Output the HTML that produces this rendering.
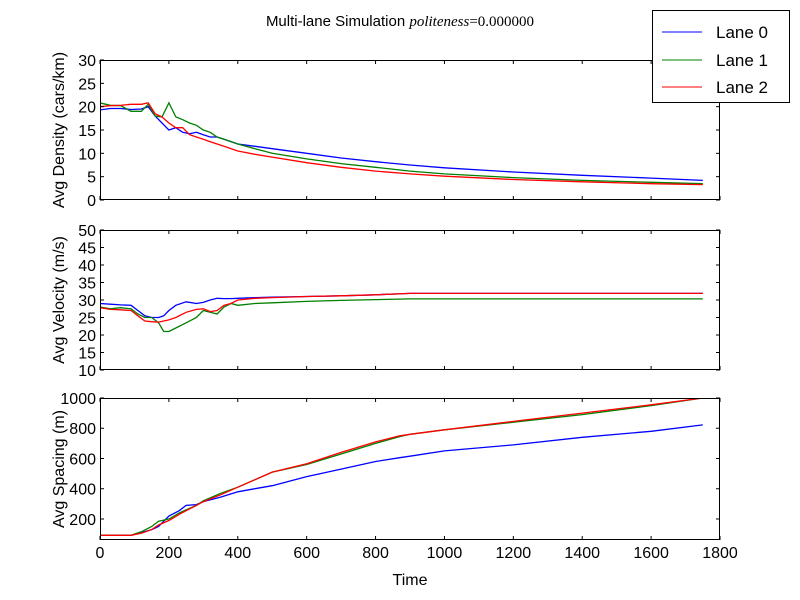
<!DOCTYPE html>
<html><head><meta charset="utf-8">
<style>
body{margin:0;background:#fff;}
svg{display:block;font-family:"Liberation Sans","DejaVu Sans",sans-serif;}
</style></head>
<body>
<svg id="chart" width="800" height="600" viewBox="0 0 800 600">
<rect width="800" height="600" fill="#fff"/>
<text x="400" y="26" font-size="15" text-anchor="middle">Multi-lane Simulation <tspan font-family="Liberation Serif,serif" font-style="italic">politeness</tspan><tspan font-family="Liberation Serif,serif">=0.000000</tspan></text>
<g id="plots"></g>
<g>
<rect x="652.5" y="10.5" width="137" height="92" fill="#fff" stroke="#000"/>
<g><line x1="662" y1="32" x2="702" y2="32" stroke="#0000ff"/><text x="716" y="38" font-size="17">Lane 0</text></g>
<g><line x1="662" y1="60" x2="702" y2="60" stroke="#008000"/><text x="716" y="66" font-size="17">Lane 1</text></g>
<g><line x1="662" y1="87" x2="702" y2="87" stroke="#ff0000"/><text x="716" y="93" font-size="17">Lane 2</text></g>
</g>
</svg>
<script>
const xTicks = [0,200,400,600,800,1000,1200,1400,1600,1800];
const colors = ["#0000ff","#008000","#ff0000"];
const laneNames = ["lane-0","lane-1","lane-2"];
// density
const densT = [0,30,60,90,120,140,160,180,200,220,240,260,280,300,320,340,360,400,450,500,600,700,800,900,1000,1200,1400,1600,1750];
const densLane0 = [19.3,19.6,19.6,19.4,19.5,20,18,16.5,15,15.5,14.5,14.2,14.5,14,13.5,13.5,13,12,11.5,11,10,9,8.2,7.5,6.9,6,5.3,4.7,4.2];
const densLane1 = [20.8,20.3,20.2,19,19,20.5,18,17.8,20.8,17.8,17.2,16.5,16,15,14.5,13.5,13,12,11,10,8.8,7.8,7,6.2,5.6,4.8,4.2,3.8,3.5];
const densLane2 = [20,20.2,20.3,20.5,20.5,20.8,18.5,17.8,16.5,15.5,15.5,14,13.5,13,12.5,12,11.5,10.5,9.8,9.2,8,7,6.2,5.6,5.1,4.4,3.9,3.5,3.3];
const densTicks = [0,5,10,15,20,25,30];
// velocity
const velT = [0,30,60,90,110,130,150,170,185,200,220,250,280,300,320,340,360,380,400,450,500,600,700,800,900,1000,1200,1400,1600,1750];
const velLane0 = [29,28.8,28.6,28.5,27,25.5,25,25,25.5,27,28.5,29.5,29,29.3,30,30.5,30.4,30.4,30.5,30.7,30.8,31,31.2,31.5,31.9,31.9,31.9,31.9,31.9,31.9];
const velLane1 = [28,27.5,27.8,27.5,26,25,25,23.5,21,21,22,23.5,25,27,26.5,26,28,29,28.5,29,29.2,29.6,29.9,30.1,30.3,30.3,30.3,30.3,30.3,30.3];
const velLane2 = [27.8,27.3,27.2,27,25.5,24,23.8,23.7,24,24.3,25,26.5,27.3,27.5,26.7,27,28.5,29,30,30.5,30.7,31,31.2,31.5,31.9,31.9,31.9,31.9,31.9,31.9];
const velTicks = [10,15,20,25,30,35,40,45,50];
// spacing
const spT = [0,50,90,120,150,170,200,230,250,280,300,350,400,450,500,600,700,800,870,900,1000,1200,1400,1600,1750];
const spLane0 = [92,92,92,110,130,150,220,255,290,295,315,345,380,400,420,480,530,580,605,615,650,690,740,780,822];
const spLane1 = [92,92,92,115,150,185,200,240,260,290,320,370,410,460,510,560,630,700,745,760,790,840,890,950,1000];
const spLane2 = [92,92,92,105,130,160,190,230,255,290,315,360,410,460,510,565,640,710,750,760,790,845,900,955,1000];
const spTicks = [200,400,600,800,1000];

const NS="http://www.w3.org/2000/svg";
const g=document.getElementById('plots');
const X0=100,X1=720,XMAX=1800;
function xs(t){return X0+(t/XMAX)*(X1-X0);}
function mk(tag,attrs,parent){const e=document.createElementNS(NS,tag);for(const k in attrs)e.setAttribute(k,attrs[k]);(parent||g).appendChild(e);return e;}

function panel(name,top,bot,ymin,ymax,yTicks,label,ts,series,showX){
  const ys=v=>bot-(v-ymin)/(ymax-ymin)*(bot-top);
  const pg=mk('g',{});
  
  
  const clipId='clip-'+name;
  const cp=mk('clipPath',{id:clipId},pg);mk('rect',{x:X0,y:top,width:X1-X0,height:bot-top},cp);
  series.forEach((vals,i)=>{
    let d='';
    ts.forEach((t,j)=>{d+=(j?'L':'M')+xs(t).toFixed(1)+','+ys(vals[j]).toFixed(1);});
    const p=mk('path',{d:d,fill:'none',stroke:colors[i],'stroke-width':1.3,'clip-path':'url(#'+clipId+')'},pg);
    
    
  });
  const fr=mk('rect',{x:X0+0.5,y:top+0.5,width:X1-X0-1,height:bot-top-1,fill:'none',stroke:'#000'},pg);
  
  
  yTicks.forEach(v=>{
    const y=ys(v);
    mk('line',{x1:X0,y1:y,x2:X0+4,y2:y,stroke:'#000'},pg);
    mk('line',{x1:X1-4,y1:y,x2:X1,y2:y,stroke:'#000'},pg);
    const tx=mk('text',{x:X0-4,y:y+6,'font-size':16,'text-anchor':'end'},pg);
    tx.textContent=v;
    
    
  });
  xTicks.forEach(t=>{
    const x=xs(t);
    mk('line',{x1:x,y1:bot,x2:x,y2:bot-4,stroke:'#000'},pg);
    mk('line',{x1:x,y1:top,x2:x,y2:top+4,stroke:'#000'},pg);
    if(showX){
      const tx=mk('text',{x:x,y:bot+18,'font-size':16,'text-anchor':'middle'},pg);
      tx.textContent=t;
      
      
    }
  });
  const cy=(top+bot)/2;
  const lx=64;
  const yl=mk('text',{x:lx,y:cy,'font-size':16,'text-anchor':'middle',transform:'rotate(-90 '+lx+' '+cy+')'},pg);
  yl.textContent=label;
  
  
}
panel('density',60,200,0,30,densTicks,'Avg Density (cars/km)',densT,[densLane0,densLane1,densLane2],false);
panel('velocity',230,370,10,50,velTicks,'Avg Velocity (m/s)',velT,[velLane0,velLane1,velLane2],false);
panel('spacing',398,540,61,1000,spTicks,'Avg Spacing (m)',spT,[spLane0,spLane1,spLane2],true);
const xl=mk('text',{x:410,y:585,'font-size':16,'text-anchor':'middle'});
xl.textContent='Time';


</script>
</body></html>
